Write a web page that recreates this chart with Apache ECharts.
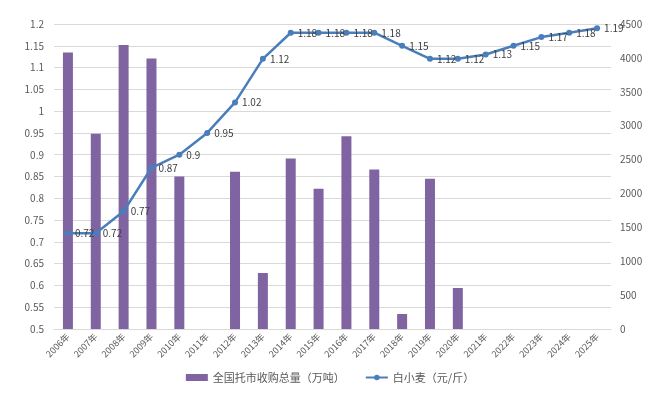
<!DOCTYPE html>
<html><head><meta charset="utf-8">
<script src="https://cdn.jsdelivr.net/npm/echarts@6/dist/echarts.min.js"></script>
<style>html,body{margin:0;padding:0;background:#fff}#c{width:660px;height:394px}</style>
</head><body><div id="c"></div>
<script>
const categories = ['2006年','2007年','2008年','2009年','2010年','2011年','2012年','2013年','2014年','2015年','2016年','2017年','2018年','2019年','2020年','2021年','2022年','2023年','2024年','2025年'];
const purchaseVolume = [4080,2880,4190,3990,2250,null,2320,826,2515,2070,2845,2355,221,2215,605,null,null,null,null,null];
const wheatPrice = [0.72,0.72,0.77,0.87,0.9,0.95,1.02,1.12,1.18,1.18,1.18,1.18,1.15,1.12,1.12,1.13,1.15,1.17,1.18,1.19];
const leftTicks = {min:0.5,max:1.2,interval:0.05};
const rightTicks = {min:0,max:4500,interval:500};
const seriesNames = ['全国托市收购总量（万吨）','白小麦（元/斤）'];

const font = '"Noto Sans CJK SC", "Noto Sans", sans-serif';
const chart = echarts.init(document.getElementById('c'));
chart.setOption({
  animation:false,
  textStyle:{fontFamily:font},
  grid:{left:54,right:49,top:24,bottom:65},
  legend:{
    bottom:6,left:'center',itemGap:20,itemWidth:22,itemHeight:7,
    textStyle:{fontSize:11,color:'#595959',fontFamily:font},
    data:[{name:seriesNames[0],icon:'rect'},{name:seriesNames[1]}]
  },
  xAxis:{
    type:'category',data:categories,
    axisLine:{lineStyle:{color:'#d9d9d9'}},
    axisTick:{show:false},
    axisLabel:{rotate:45,fontSize:9,color:'#595959',interval:0,margin:6,fontFamily:font}
  },
  yAxis:[{
    type:'value',min:leftTicks.min,max:leftTicks.max,interval:leftTicks.interval,
    axisLine:{show:false},axisTick:{show:false},
    splitLine:{lineStyle:{color:'#d9d9d9'}},
    axisLabel:{fontSize:10,color:'#595959',margin:10,fontFamily:font,
      formatter:v=>String(parseFloat(v.toFixed(2)))}
  },{
    type:'value',min:rightTicks.min,max:rightTicks.max,interval:rightTicks.interval,
    axisLine:{show:false},axisTick:{show:false},splitLine:{show:false},
    axisLabel:{fontSize:10,color:'#595959',margin:9,fontFamily:font,
      formatter:v=>String(v)}
  }],
  series:[{
    name:seriesNames[0],type:'bar',yAxisIndex:1,data:purchaseVolume,
    barWidth:10,itemStyle:{color:'#8064A2'}
  },{
    name:seriesNames[1],type:'line',yAxisIndex:0,data:wheatPrice,
    symbol:'circle',symbolSize:6,
    lineStyle:{color:'#4A7EBB',width:2.5},itemStyle:{color:'#4A7EBB'},
    label:{show:true,position:'right',distance:4,fontSize:10,color:'#404040',fontFamily:font}
  }]
});
</script></body></html>
